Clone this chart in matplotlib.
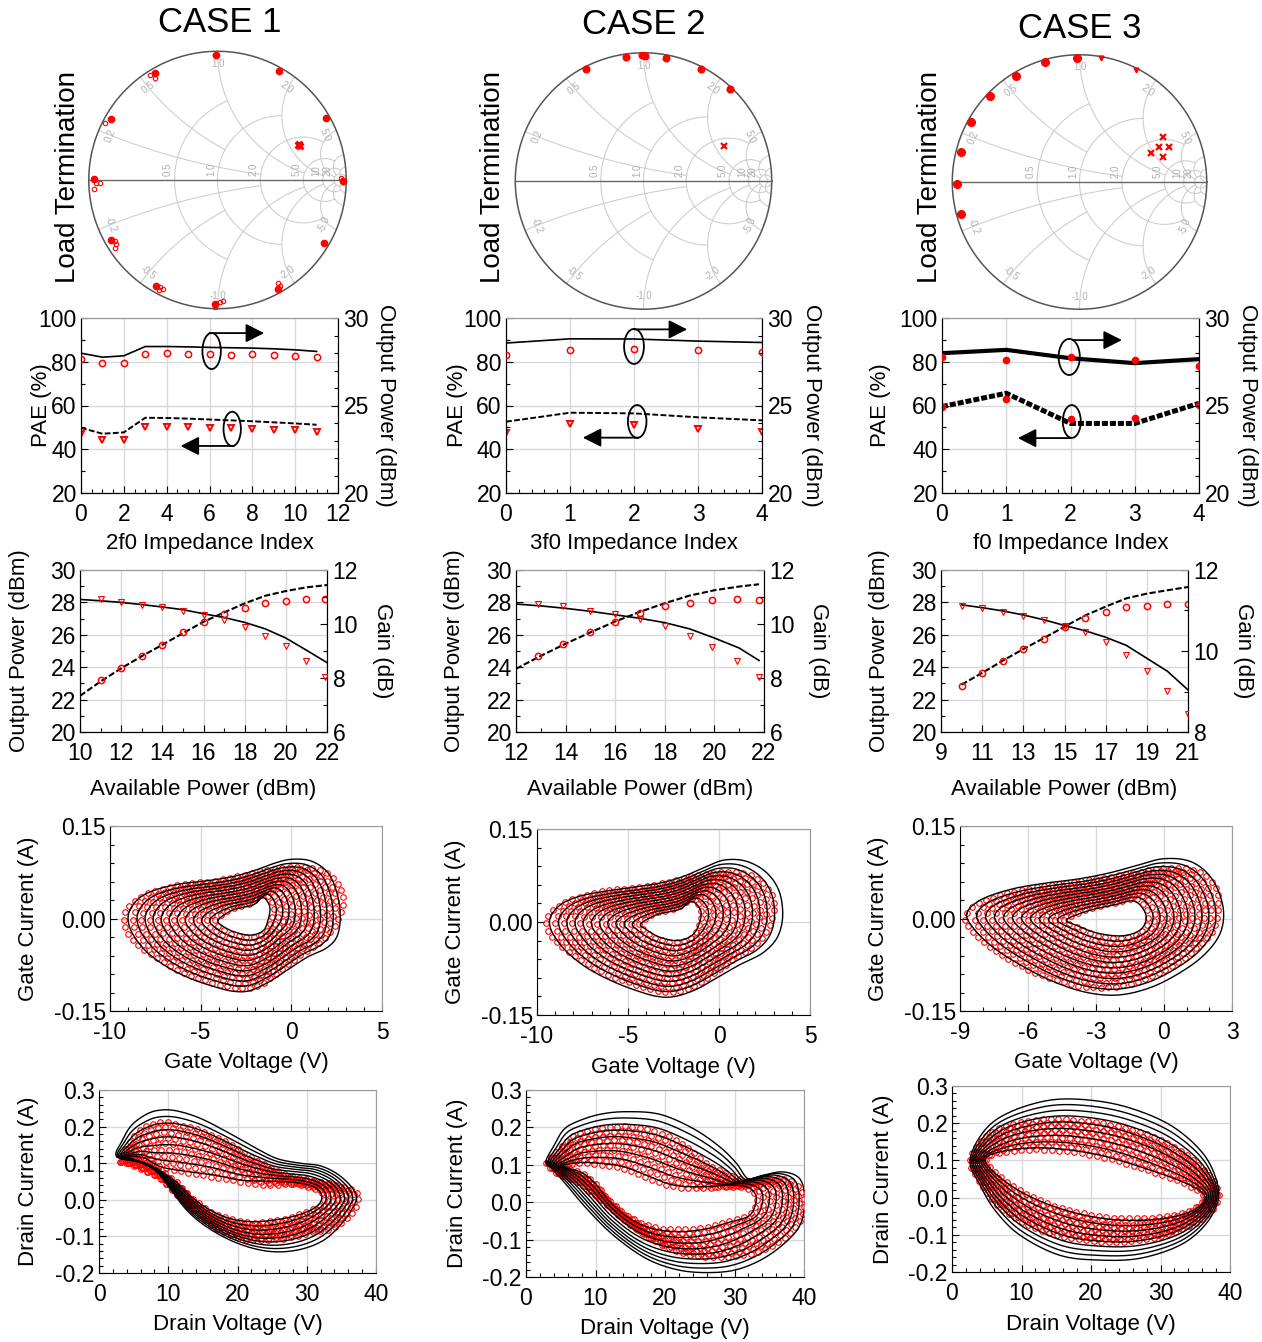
import numpy as np
import matplotlib
matplotlib.use('Agg')
import matplotlib.pyplot as plt
from matplotlib.patches import Ellipse
from matplotlib.ticker import MultipleLocator, FixedLocator, FormatStrFormatter

plt.rcParams['font.family'] = ['Liberation Sans', 'DejaVu Sans']
plt.rcParams['font.size'] = 16
plt.rcParams['axes.unicode_minus'] = False

# ------------------------------------------------------------------ data
case_titles = ['CASE 1', 'CASE 2', 'CASE 3']

# Smith chart points (reflection coefficient re, im)
s1_fill_re = [-0.014, -0.489, -0.831, -0.959, -0.831, -0.481, -0.022, 0.469, 0.829, 0.975, 0.842, 0.481]
s1_fill_im = [0.971, 0.830, 0.473, 0.005, -0.467, -0.822, -0.963, -0.848, -0.490, -0.008, 0.485, 0.848]
s1_open_re = [-0.020, -0.527, -0.489, -0.877, -0.941, -0.959, -0.916, -0.800, -0.792, -0.800, -0.443, -0.423,
              -0.456, 0.017, 0.042, -0.022, 0.469, 0.489, 0.962]
s1_open_im = [0.975, 0.817, 0.792, 0.439, -0.026, -0.072, -0.020, -0.472, -0.498, -0.531, -0.830, -0.843,
              -0.856, -0.945, -0.940, -0.983, -0.800, -0.822, 0.013]
s1_load_re = [0.622, 0.630, 0.638]
s1_load_im = [0.273, 0.280, 0.268]

s2_fill_re = [-0.447, -0.138, -0.014, 0.010, 0.172, 0.450, 0.677]
s2_fill_im = [0.872, 0.968, 0.980, 0.975, 0.963, 0.870, 0.715]
s2_load_re = [0.626]
s2_load_im = [0.271]

s3_fill_re = [-0.016, -0.270, -0.503, -0.702, -0.852, -0.935, -0.964, -0.930]
s3_fill_im = [0.977, 0.940, 0.834, 0.679, 0.470, 0.238, -0.013, -0.251]
s3_small_re = [0.166, 0.446]
s3_small_im = [0.977, 0.878]
s3_load_re = [0.655, 0.627, 0.707, 0.565, 0.653]
s3_load_im = [0.355, 0.275, 0.275, 0.230, 0.200]

# Row 2: PAE / output power vs impedance index
idx1 = [0, 1, 2, 3, 4, 5, 6, 7, 8, 9, 10, 11]
pout_meas1 = [27.67, 27.42, 27.42, 27.95, 27.99, 27.95, 27.95, 27.90, 27.92, 27.88, 27.84, 27.76]
pout_sim1 = [27.99, 27.76, 27.84, 28.37, 28.37, 28.35, 28.32, 28.30, 28.28, 28.24, 28.18, 28.09]
pae_meas1 = [46.8, 44.3, 44.3, 50.1, 50.4, 50.1, 49.8, 49.5, 49.4, 48.6, 48.6, 48.0]
pae_sim1 = [49.8, 47.1, 47.7, 54.4, 54.3, 54.0, 53.6, 53.2, 52.8, 52.3, 51.8, 51.2]

idx2 = [0, 1, 2, 3, 4]
pout_meas2 = [27.86, 28.15, 28.22, 28.15, 28.05]
pout_sim2 = [28.57, 28.81, 28.80, 28.68, 28.60]
pae_meas2 = [47.4, 51.4, 50.9, 49.1, 48.0]
pae_sim2 = [52.6, 56.7, 56.4, 54.6, 53.2]

idx3 = [0, 1, 2, 3, 4]
pout_meas3 = [27.80, 27.60, 27.76, 27.60, 27.27]
pout_sim3 = [27.99, 28.18, 27.70, 27.42, 27.65]
pae_meas3 = [59.5, 63.1, 54.0, 54.4, 60.1]
pae_sim3 = [59.5, 65.6, 51.8, 51.8, 61.0]

# Row 3: output power / gain vs available power
pavs_sim_a = [10, 11, 12, 13, 14, 15, 16, 17, 18, 19, 20, 21, 22]
pout_sim_a = [22.23, 23.12, 23.93, 24.68, 25.38, 26.10, 26.80, 27.38, 27.94, 28.41, 28.70, 28.93, 29.07]
gain_sim_a = [10.91, 10.86, 10.80, 10.72, 10.63, 10.53, 10.38, 10.24, 10.06, 9.82, 9.48, 9.03, 8.57]
pavs_meas_a = [11, 12, 13, 14, 15, 16, 17, 18, 19, 20, 21, 21.9]
pout_meas_a = [23.20, 23.96, 24.68, 25.36, 26.16, 26.80, 27.30, 27.67, 27.94, 28.08, 28.20, 28.20]
gain_meas_a = [10.91, 10.81, 10.71, 10.63, 10.49, 10.35, 10.13, 9.88, 9.57, 9.18, 8.62, 8.04]

pavs_sim_b = [12, 13, 14, 15, 16, 17, 18, 19, 20, 21, 21.8]
pout_sim_b = [23.90, 24.70, 25.45, 26.15, 26.82, 27.42, 27.95, 28.42, 28.75, 28.98, 29.12]
gain_sim_b = [10.74, 10.67, 10.58, 10.47, 10.34, 10.21, 10.05, 9.82, 9.48, 9.11, 8.65]
pavs_meas_b = [12.9, 13.9, 15, 16, 17, 18, 19, 19.9, 20.9, 21.8]
pout_meas_b = [24.70, 25.42, 26.20, 26.82, 27.37, 27.76, 27.99, 28.13, 28.19, 28.13]
gain_meas_b = [10.73, 10.65, 10.50, 10.37, 10.18, 9.91, 9.57, 9.16, 8.63, 8.03]

pavs_sim_c = [10, 11, 12, 13, 14, 15, 16, 17, 18, 19, 20, 21]
pout_sim_c = [22.92, 23.65, 24.40, 25.12, 25.80, 26.50, 27.19, 27.74, 28.25, 28.54, 28.75, 28.95]
gain_sim_c = [11.14, 11.07, 10.99, 10.89, 10.77, 10.63, 10.50, 10.34, 10.14, 9.82, 9.50, 9.04]
pavs_meas_c = [10, 11, 12, 13, 14, 15, 16, 17, 18, 19, 20, 21]
pout_meas_c = [22.81, 23.63, 24.39, 25.11, 25.75, 26.51, 27.06, 27.39, 27.70, 27.80, 27.88, 27.88]
gain_meas_c = [11.12, 11.06, 10.97, 10.87, 10.76, 10.62, 10.46, 10.22, 9.91, 9.50, 9.02, 8.45]

# Row 4: gate loops (outer and inner contours, V and A)
g1_sim_out_v = [-8.90, -8.35, -7.43, -6.14, -4.68, -3.21, -2.11, -1.00, 0.00, 1.11, 2.02, 2.52, 2.70, 2.52, 1.93,
                0.92, -0.09, -1.19, -2.29, -3.21, -4.31, -5.59, -6.88, -7.98, -8.71, -8.99]
g1_sim_out_i = [0.014, 0.034, 0.047, 0.056, 0.061, 0.068, 0.077, 0.089, 0.096, 0.093, 0.074, 0.041, 0.003, -0.029,
                -0.048, -0.062, -0.081, -0.102, -0.117, -0.118, -0.110, -0.097, -0.078, -0.054, -0.027, -0.005]
g1_sim_in_v = [-4.03, -3.21, -2.11, -1.56, -1.19, -1.28, -1.56, -2.29, -3.21, -3.85]
g1_sim_in_i = [-0.002, 0.014, 0.022, 0.034, 0.019, -0.002, -0.020, -0.027, -0.021, -0.011]
g1_meas_out_v = [-9.23, -8.99, -8.25, -7.24, -5.77, -4.31, -2.84, -1.56, -0.27, 1.02, 2.12, 2.76, 2.85, 2.48, 1.75,
                 0.65, -0.45, -1.56, -2.48, -3.57, -4.86, -6.14, -7.43, -8.44, -9.08]
g1_meas_out_i = [-0.002, 0.019, 0.036, 0.047, 0.057, 0.061, 0.069, 0.078, 0.083, 0.083, 0.070, 0.046, 0.025, -0.008,
                 -0.035, -0.056, -0.081, -0.105, -0.113, -0.110, -0.099, -0.086, -0.064, -0.043, -0.021]
g1_meas_in_v = [-4.2, -3.3, -2.2, -1.5, -1.0, -1.1, -1.5, -2.3, -3.3, -4.0]
g1_meas_in_i = [-0.003, 0.016, 0.025, 0.040, 0.022, -0.003, -0.024, -0.031, -0.025, -0.013]

g2_sim_out_v = [-9.2, -8.6, -7.6, -6.2, -4.7, -3.2, -2.0, -0.8, 0.3, 1.5, 2.6, 3.3, 3.5, 3.2, 2.4, 1.2, 0.0, -1.2,
                -2.4, -3.4, -4.6, -5.9, -7.2, -8.3, -9.0, -9.3]
g2_sim_out_i = [0.012, 0.030, 0.042, 0.050, 0.056, 0.063, 0.073, 0.088, 0.100, 0.098, 0.080, 0.050, 0.010, -0.025,
                -0.050, -0.068, -0.088, -0.108, -0.120, -0.120, -0.110, -0.095, -0.075, -0.050, -0.025, -0.005]
g2_sim_in_v = [-4.3, -3.4, -2.2, -1.5, -1.0, -1.1, -1.5, -2.3, -3.3, -4.0]
g2_sim_in_i = [-0.003, 0.012, 0.020, 0.033, 0.018, -0.004, -0.022, -0.030, -0.024, -0.012]
g2_meas_out_v = [-9.5, -9.2, -8.4, -7.4, -5.9, -4.4, -2.9, -1.5, -0.2, 1.1, 2.2, 2.9, 3.0, 2.7, 2.0, 0.9, -0.3,
                 -1.5, -2.5, -3.6, -4.9, -6.2, -7.5, -8.6, -9.3]
g2_meas_out_i = [-0.002, 0.017, 0.033, 0.043, 0.052, 0.056, 0.064, 0.074, 0.080, 0.080, 0.068, 0.044, 0.020, -0.010,
                 -0.037, -0.058, -0.083, -0.105, -0.113, -0.110, -0.098, -0.084, -0.062, -0.041, -0.020]
g2_meas_in_v = [-4.4, -3.5, -2.3, -1.5, -1.0, -1.1, -1.5, -2.4, -3.4, -4.1]
g2_meas_in_i = [-0.003, 0.014, 0.023, 0.037, 0.020, -0.004, -0.025, -0.033, -0.027, -0.013]

g3_sim_out_v = [-8.7, -8.1, -6.8, -5.3, -3.8, -2.4, -1.2, 0.0, 1.2, 2.1, 2.6, 2.5, 1.8, 0.7, -0.6, -2.0, -3.4, -4.9,
                -6.4, -7.6, -8.4]
g3_sim_out_i = [0.008, 0.030, 0.047, 0.057, 0.064, 0.074, 0.086, 0.097, 0.092, 0.065, 0.020, -0.022, -0.058, -0.088,
                -0.112, -0.124, -0.120, -0.102, -0.074, -0.045, -0.016]
g3_sim_in_v = [-4.3, -3.3, -2.2, -1.3, -0.8, -1.0, -1.8, -2.9, -3.8]
g3_sim_in_i = [-0.002, 0.013, 0.022, 0.028, 0.006, -0.017, -0.028, -0.024, -0.012]
g3_meas_out_v = [-8.8, -8.4, -7.2, -5.7, -4.1, -2.6, -1.2, 0.2, 1.4, 2.2, 2.4, 2.1, 1.3, 0.2, -1.1, -2.5, -3.9, -5.4,
                 -6.8, -7.9, -8.6]
g3_meas_out_i = [-0.002, 0.020, 0.038, 0.050, 0.058, 0.066, 0.075, 0.082, 0.078, 0.055, 0.015, -0.022, -0.052, -0.080,
                 -0.102, -0.112, -0.108, -0.092, -0.067, -0.040, -0.015]
g3_meas_in_v = [-4.4, -3.4, -2.2, -1.2, -0.7, -0.9, -1.8, -3.0, -3.9]
g3_meas_in_i = [-0.002, 0.015, 0.025, 0.032, 0.007, -0.019, -0.031, -0.027, -0.013]

# Row 5: drain loops
d1_sim_out_v = [2.55, 3.27, 4.72, 6.88, 8.81, 11.21, 14.58, 18.43, 22.28, 25.65, 29.02, 31.91, 34.31, 36.24, 37.20,
                36.72, 35.27, 32.87, 29.98, 26.61, 23.24, 19.39, 15.54, 12.66, 10.25, 8.33, 5.92]
d1_sim_out_i = [0.118, 0.159, 0.204, 0.234, 0.245, 0.243, 0.223, 0.186, 0.145, 0.113, 0.100, 0.093, 0.072, 0.040,
                0.009, -0.019, -0.060, -0.105, -0.131, -0.142, -0.137, -0.114, -0.074, -0.028, 0.031, 0.077, 0.102]
d1_sim_in_v = [4.0, 6.4, 8.81, 11.69, 16.51, 20.36, 24.21, 28.06, 30.94, 32.15, 31.67, 29.50, 26.13, 22.28, 18.91,
               16.03, 13.62, 11.69, 9.77, 7.36, 4.96]
d1_sim_in_i = [0.118, 0.115, 0.091, 0.080, 0.068, 0.054, 0.051, 0.048, 0.036, 0.013, -0.014, -0.037, -0.053, -0.060,
               -0.051, -0.028, 0.004, 0.040, 0.068, 0.095, 0.111]
d1_meas_out_v = [3.0, 4.3, 5.9, 8.8, 11.7, 14.6, 18.4, 22.3, 26.1, 29.0, 31.9, 35.3, 37.4, 37.4, 36.7, 33.8, 30.9,
                 27.1, 22.8, 20.4, 17.0, 14.6, 11.7, 9.3, 6.9, 4.4]
d1_meas_out_i = [0.103, 0.150, 0.190, 0.213, 0.204, 0.190, 0.159, 0.113, 0.077, 0.059, 0.050, 0.036, 0.018, -0.001,
                 -0.032, -0.078, -0.087, -0.105, -0.110, -0.105, -0.078, -0.042, 0.004, 0.050, 0.077, 0.098]
d1_meas_in_v = [4.5, 6.8, 9.0, 11.8, 16.5, 20.4, 24.2, 28.0, 31.0, 32.5, 32.0, 29.5, 26.0, 22.3, 19.0, 16.0, 13.6,
                11.7, 9.8, 7.4]
d1_meas_in_i = [0.112, 0.108, 0.090, 0.078, 0.062, 0.050, 0.040, 0.042, 0.030, 0.010, -0.015, -0.036, -0.055, -0.062,
                -0.052, -0.030, 0.002, 0.040, 0.068, 0.094]

d2_sim_out_v = [2.87, 3.93, 5.37, 7.28, 10.63, 14.47, 19.26, 24.05, 27.88, 30.28, 31.95, 34.11, 36.98, 39.38, 40.1,
                39.62, 37.94, 34.59, 30.75, 26.92, 22.13, 17.34, 12.55, 8.72, 5.84, 3.93]
d2_sim_out_i = [0.108, 0.148, 0.193, 0.215, 0.235, 0.242, 0.235, 0.197, 0.148, 0.104, 0.063, 0.072, 0.081, 0.063,
                0.010, -0.053, -0.097, -0.146, -0.178, -0.188, -0.182, -0.151, -0.088, -0.017, 0.046, 0.086]
d2_sim_in_v = [5.37, 7.76, 10.63, 13.99, 17.34, 21.17, 25.49, 29.80, 32.19, 33.15, 32.19, 29.32, 25.96, 22.13,
               18.30, 14.95, 12.07, 10.16, 8.24, 6.32]
d2_sim_in_i = [0.099, 0.106, 0.104, 0.095, 0.072, 0.046, 0.041, 0.046, 0.037, 0.010, -0.035, -0.053, -0.071, -0.079,
               -0.071, -0.044, 0.001, 0.046, 0.077, 0.090]
d2_meas_out_v = [2.9, 3.9, 6.3, 8.2, 10.6, 15.4, 20.2, 23.1, 26.0, 29.3, 32.7, 35.5, 38.4, 39.9, 39.9, 38.2, 34.6,
                 30.8, 26.0, 22.1, 18.3, 14.5, 10.6, 7.3, 4.9, 3.2]
d2_meas_out_i = [0.106, 0.126, 0.171, 0.188, 0.197, 0.202, 0.179, 0.148, 0.104, 0.072, 0.054, 0.063, 0.054, 0.019,
                 -0.026, -0.079, -0.124, -0.142, -0.146, -0.133, -0.102, -0.053, 0.010, 0.054, 0.072, 0.095]
d2_meas_in_v = [5.5, 7.9, 10.7, 14.0, 17.3, 21.2, 25.5, 29.8, 32.2, 33.2, 32.2, 29.3, 26.0, 22.1, 18.3, 15.0, 12.1,
                10.2, 8.3, 6.4]
d2_meas_in_i = [0.098, 0.104, 0.100, 0.090, 0.066, 0.042, 0.037, 0.042, 0.034, 0.008, -0.032, -0.050, -0.066, -0.073,
                -0.066, -0.040, 0.002, 0.045, 0.075, 0.088]

d3_sim_out_v = [2.59, 4.75, 8.35, 14.1, 19.86, 25.6, 31.4, 35.7, 37.8, 38.3, 36.4, 32.8, 27.1, 21.3, 15.5, 9.78,
                6.19, 4.03]
d3_sim_out_i = [0.101, 0.182, 0.230, 0.262, 0.262, 0.241, 0.195, 0.128, 0.061, -0.006, -0.074, -0.128, -0.163,
                -0.168, -0.155, -0.101, -0.034, 0.034]
d3_sim_in_v = [4.75, 8.35, 14.1, 21.3, 28.5, 34.2, 36.4, 34.2, 28.5, 21.3, 14.1, 8.35]
d3_sim_in_i = [0.101, 0.128, 0.133, 0.114, 0.074, 0.034, 0.000, -0.039, -0.060, -0.055, -0.020, 0.034]
d3_meas_out_v = [2.6, 4.5, 8.0, 13.0, 18.0, 23.0, 28.0, 32.5, 36.0, 38.0, 38.3, 36.5, 32.5, 27.0, 21.0, 15.0, 10.0,
                 6.5, 4.0]
d3_meas_out_i = [0.100, 0.160, 0.195, 0.210, 0.208, 0.195, 0.170, 0.130, 0.080, 0.035, -0.005, -0.050, -0.090,
                 -0.115, -0.118, -0.100, -0.065, -0.020, 0.040]
d3_meas_in_v = [4.9, 8.5, 14.2, 21.3, 28.4, 34.0, 36.2, 34.0, 28.4, 21.3, 14.2, 8.5]
d3_meas_in_i = [0.100, 0.125, 0.128, 0.110, 0.072, 0.033, 0.000, -0.036, -0.055, -0.050, -0.018, 0.034]

# drive levels (fraction between inner and outer contour) for each loop family
gate_levels = [0.0, 0.09, 0.18, 0.27, 0.36, 0.45, 0.54, 0.63, 0.72, 0.81, 0.90, 1.0]
drain_levels = [0.0, 0.14, 0.28, 0.42, 0.55, 0.67, 0.78, 0.89, 1.0]

# ------------------------------------------------------------------ figure
W, H = 1262, 1342
fig = plt.figure(figsize=(W / 100, H / 100), dpi=100)
TICK_FS = 16.5
LAB_FS = 16


def add_ax(l, t, r, b):
    return fig.add_axes([l / W, 1 - b / H, (r - l) / W, (b - t) / H])


GRAY_SPINE = '#9a9a9a'
GRID = '#d8d8d8'


def tickstyle(ax):
    ax.tick_params(which='both', direction='in', labelsize=TICK_FS, width=0.8)
    ax.tick_params(axis='x', which='both', pad=7.5)
    ax.tick_params(axis='y', which='both', pad=3)
    ax.tick_params(which='major', length=5)
    ax.tick_params(which='minor', length=3)


def style(ax, gray_right=True):
    tickstyle(ax)
    ax.spines['top'].set_color(GRAY_SPINE)
    if gray_right:
        ax.spines['right'].set_color(GRAY_SPINE)
    ax.grid(True, which='major', color=GRID, lw=1.0)
    ax.set_axisbelow(True)


def style_twin(ax2):
    ax2.tick_params(which='both', direction='in', labelsize=TICK_FS, width=0.8, pad=4)
    ax2.tick_params(which='major', length=5)
    ax2.tick_params(which='minor', length=3)
    ax2.spines['top'].set_color(GRAY_SPINE)


# ------------------------------------------------------------ Smith charts
smith_boxes = [(87.5, 50, 347.5, 310), (514, 51.5, 773, 310.5), (951, 53.5, 1208, 310.5)]
title_pos = [(220, 22), (644, 25), (1080, 28)]
lt_x = [68, 493, 930]


def smith_grid(ax):
    gc = '#cfcfcf'
    for r, xmax in [(0.5, 1), (1, 2), (2, 5), (5, 10), (10, 20), (20, 60)]:
        x = np.linspace(-xmax, xmax, 1500)
        g = (r + 1j * x - 1) / (r + 1j * x + 1)
        ax.plot(g.real, g.imag, color=gc, lw=0.8, zorder=1)
    for xv, rmax in [(0.2, 2), (0.5, 1), (1, 5), (2, 10), (5, 20), (10, 20), (20, 60)]:
        rr = np.linspace(0, rmax, 1500)
        for s in (1, -1):
            g = (rr + 1j * s * xv - 1) / (rr + 1j * s * xv + 1)
            ax.plot(g.real, g.imag, color=gc, lw=0.8, zorder=1)
    th = np.linspace(0, 2 * np.pi, 600)
    ax.plot(np.cos(th), np.sin(th), color='#555555', lw=1.1, zorder=2)
    ax.plot([-1, 1], [0, 0], color='#666666', lw=1.0, zorder=2)
    for r, lab in [(0.5, '0.5'), (1, '1.0'), (2, '2.0'), (5, '5.0'), (10, '10'), (20, '20')]:
        g = (r - 1) / (r + 1)
        ax.text(g - 0.012, 0.03, lab, rotation=90, fontsize=7, color='#b0b0b0', ha='right', va='bottom')
    for xv, lab in [(0.2, '0.2'), (0.5, '0.5'), (1, '1.0'), (2, '2.0'), (5, '5.0')]:
        for s in (1, -1):
            g = (1j * s * xv - 1) / (1j * s * xv + 1)
            ang = np.degrees(np.angle(g))
            p = 0.9 * g
            ax.text(p.real, p.imag, lab if s > 0 else '-' + lab, fontsize=7, color='#b0b0b0',
                    rotation=ang - 90 if s > 0 else ang + 90, ha='center', va='center')
    ax.set_xlim(-1.01, 1.01)
    ax.set_ylim(-1.01, 1.01)
    ax.axis('off')


for k in range(3):
    l, t, r, b = smith_boxes[k]
    ax = add_ax(l, t, r, b)
    smith_grid(ax)
    fig.text(title_pos[k][0] / W, 1 - title_pos[k][1] / H, case_titles[k], fontsize=25, ha='center', va='center')
    fig.text(lt_x[k] / W, 1 - 177 / H, 'Load Termination', fontsize=20, rotation=90, ha='center', va='center')
    if k == 0:
        ax.plot(s1_open_re, s1_open_im, 'o', ms=3.2, mfc='none', mec='red', mew=0.8, zorder=5)
        ax.plot(s1_fill_re, s1_fill_im, 'o', ms=4.5, color='red', zorder=6)
        ax.plot(s1_load_re, s1_load_im, 'x', ms=5, color='red', mew=2.0, zorder=6)
    elif k == 1:
        ax.plot(s2_fill_re, s2_fill_im, 'o', ms=4.8, color='red', zorder=6)
        ax.plot(s2_load_re, s2_load_im, 'x', ms=4.5, color='red', mew=1.6, zorder=6)
    else:
        ax.plot(s3_fill_re, s3_fill_im, 'o', ms=5.5, color='red', zorder=6)
        ax.plot(s3_small_re, s3_small_im, 'v', ms=3.5, color='red', zorder=6)
        ax.plot(s3_load_re, s3_load_im, 'x', ms=4.5, color='red', mew=1.6, zorder=6)

# ------------------------------------------------------------ Row 2
row2_boxes = [(81, 318, 338, 493), (506, 318, 762, 493), (942, 318, 1199, 493)]
row2_xlabels = ['2f0 Impedance Index', '3f0 Impedance Index', 'f0 Impedance Index']
row2_data = [(idx1, pout_meas1, pout_sim1, pae_meas1, pae_sim1),
             (idx2, pout_meas2, pout_sim2, pae_meas2, pae_sim2),
             (idx3, pout_meas3, pout_sim3, pae_meas3, pae_sim3)]
row2_ell = [[((6.1, 84.9), 0.86, 16.5), ((7.06, 49.3), 0.81, 15.7)],
            [((2.0, 87.0), 0.31, 16.0), ((2.05, 52.7), 0.29, 15.0)],
            [((1.98, 82.2), 0.33, 16.5), ((2.02, 52.7), 0.28, 15.0)]]
row2_arrows = [[((6.0, 93.1), (8.55, 93.1)), ((7.14, 41.5), (4.65, 41.5))],
               [((2.0, 94.8), (2.83, 94.8)), ((2.07, 45.3), (1.2, 45.3))],
               [((2.04, 89.9), (2.8, 89.9)), ((2.0, 45.1), (1.18, 45.1))]]
row2_lab = [(-0.152, 1.183), (-0.19, 1.195), (-0.24, 1.187)]

for k in range(3):
    l, t, r, b = row2_boxes[k]
    ax = add_ax(l, t, r, b)
    idx, pm, ps, em, es = row2_data[k]
    ax2 = ax.twinx()
    style(ax, gray_right=False)
    style_twin(ax2)
    if k == 2:
        ax.plot(idx, es, color='black', lw=3.6, ls=(0, (1.2, 0.4)), zorder=3)
        ax2.plot(idx, ps, color='black', lw=3.0, zorder=3)
        ax.plot(idx, em, 'o', ms=4.5, color='red', zorder=4)
        ax2.plot(idx, pm, 'o', ms=4.5, color='red', zorder=4)
    else:
        ax.plot(idx, es, color='black', lw=1.4, ls=(0, (3, 1.2)), zorder=3)
        ax2.plot(idx, ps, color='black', lw=1.2, zorder=3)
        ax.plot(idx, em, 'v', ms=4.5, mfc='none', mec='red', mew=1.4, zorder=4)
        ax2.plot(idx, pm, 'o', ms=4.5, mfc='none', mec='red', mew=1.1, zorder=4)
    ax.set_ylim(20, 100)
    ax2.set_ylim(20, 30)
    ax.yaxis.set_major_locator(MultipleLocator(20))
    ax.yaxis.set_minor_locator(MultipleLocator(10))
    ax2.yaxis.set_major_locator(MultipleLocator(5))
    ax2.yaxis.set_minor_locator(MultipleLocator(1))
    if k == 0:
        ax.set_xlim(0, 12)
        ax.xaxis.set_major_locator(MultipleLocator(2))
        ax.xaxis.set_minor_locator(MultipleLocator(0.5))
    else:
        ax.set_xlim(0, 4)
        ax.xaxis.set_major_locator(MultipleLocator(1))
        ax.xaxis.set_minor_locator(MultipleLocator(0.2))
    for (c, w, h) in row2_ell[k]:
        ax.add_patch(Ellipse(c, w, h, fill=False, ec='black', lw=1.3, zorder=5))
    for (s, e) in row2_arrows[k]:
        ax.annotate('', xy=e, xytext=s,
                    arrowprops=dict(arrowstyle='-|>,head_length=0.75,head_width=0.38', color='black', lw=1.3,
                                    mutation_scale=15, shrinkA=0, shrinkB=0), zorder=6)
    ax.set_ylabel('PAE (%)', fontsize=LAB_FS, va='center')
    ax.yaxis.set_label_coords(row2_lab[k][0], 0.5)
    ax2.set_ylabel('Output Power (dBm)', fontsize=LAB_FS, rotation=-90, va='center')
    ax2.yaxis.set_label_coords(row2_lab[k][1], 0.5)
    ax.set_xlabel(row2_xlabels[k], fontsize=LAB_FS, va='center')
    ax.xaxis.set_label_coords(0.5, -0.291)

# ------------------------------------------------------------ Row 3
row3_boxes = [(80, 570, 327, 732), (516, 570, 764, 732), (941, 570, 1188, 732)]
row3_data = [(pavs_sim_a, pout_sim_a, gain_sim_a, pavs_meas_a, pout_meas_a, gain_meas_a),
             (pavs_sim_b, pout_sim_b, gain_sim_b, pavs_meas_b, pout_meas_b, gain_meas_b),
             (pavs_sim_c, pout_sim_c, gain_sim_c, pavs_meas_c, pout_meas_c, gain_meas_c)]
row3_xlim = [(10, 22), (12, 22), (9, 21)]
row3_xticks = [[10, 12, 14, 16, 18, 20, 22], [12, 14, 16, 18, 20, 22], [9, 11, 13, 15, 17, 19, 21]]
row3_glim = [(6, 12), (6, 12), (8, 12)]
row3_lab = [(-0.243, 1.223), (-0.246, 1.218), (-0.247, 1.223)]

for k in range(3):
    l, t, r, b = row3_boxes[k]
    ax = add_ax(l, t, r, b)
    ps_x, ps_y, gs_y, pm_x, pm_y, gm_y = row3_data[k]
    ax2 = ax.twinx()
    style(ax, gray_right=False)
    style_twin(ax2)
    ax.plot(ps_x, ps_y, color='black', lw=1.5, ls=(0, (3, 1.2)), zorder=3)
    ax.plot(pm_x, pm_y, 'o', ms=4.5, mfc='none', mec='red', mew=1.1, zorder=4)
    ax2.plot(ps_x, gs_y, color='black', lw=1.2, zorder=3)
    ax2.plot(pm_x, gm_y, 'v', ms=4, mfc='none', mec='red', mew=0.8, zorder=4)
    ax.set_xlim(*row3_xlim[k])
    ax.set_ylim(20, 30)
    ax2.set_ylim(*row3_glim[k])
    ax.xaxis.set_major_locator(FixedLocator(row3_xticks[k]))
    ax.xaxis.set_minor_locator(MultipleLocator(1))
    ax.yaxis.set_major_locator(MultipleLocator(2))
    ax.yaxis.set_minor_locator(MultipleLocator(1))
    ax2.yaxis.set_major_locator(MultipleLocator(2))
    ax2.yaxis.set_minor_locator(MultipleLocator(1))
    ax.set_ylabel('Output Power (dBm)', fontsize=LAB_FS, va='center')
    ax.yaxis.set_label_coords(row3_lab[k][0], 0.5)
    ax2.set_ylabel('Gain (dB)', fontsize=LAB_FS, rotation=-90, va='center')
    ax2.yaxis.set_label_coords(row3_lab[k][1], 0.5)
    ax.set_xlabel('Available Power (dBm)', fontsize=LAB_FS, va='center')
    ax.xaxis.set_label_coords(0.5, -0.358)


# ------------------------------------------------------------ loops
def closed_curve(xs, ys, sx, sy, n=500):
    P = np.column_stack([np.asarray(xs, float) / sx, np.asarray(ys, float) / sy])
    N = len(P)
    t = np.linspace(0, 1, 16, endpoint=False)[:, None]
    segs = []
    for k in range(N):
        p0, p1, p2, p3 = P[k - 1], P[k], P[(k + 1) % N], P[(k + 2) % N]
        segs.append(0.5 * (2 * p1 + (p2 - p0) * t + (2 * p0 - 5 * p1 + 4 * p2 - p3) * t ** 2
                           + (3 * p1 - p0 - 3 * p2 + p3) * t ** 3))
    C = np.vstack(segs + [P[:1]])
    d = np.r_[0, np.cumsum(np.hypot(*np.diff(C, axis=0).T))]
    s = np.linspace(0, d[-1], n)
    return np.column_stack([np.interp(s, d, C[:, 0]), np.interp(s, d, C[:, 1])])


def draw_loops(ax, box, xlim, ylim, sim_out, sim_in, meas_out, meas_in, levels):
    l, t, r, b = box
    sx = (xlim[1] - xlim[0]) / (r - l)
    sy = (ylim[1] - ylim[0]) / (b - t)
    so = closed_curve(*sim_out, sx, sy)
    si = closed_curve(*sim_in, sx, sy)
    mo = closed_curve(*meas_out, sx, sy)
    mi = closed_curve(*meas_in, sx, sy)
    for f in levels:
        C = mi + f * (mo - mi)
        C = np.vstack([C, C[:1]])
        d = np.r_[0, np.cumsum(np.hypot(*np.diff(C, axis=0).T))]
        nm = max(int(d[-1] / 7.5), 12)
        s = np.linspace(0, d[-1], nm, endpoint=False)
        x = np.interp(s, d, C[:, 0]) * sx
        y = np.interp(s, d, C[:, 1]) * sy
        ax.plot(x, y, 'o', ms=4.0, mfc='none', mec='red', mew=0.8, zorder=3)
    for f in levels:
        C = si + f * (so - si)
        C = np.vstack([C, C[:1]])
        ax.plot(C[:, 0] * sx, C[:, 1] * sy, color='black', lw=1.0, zorder=4)


row4_boxes = [(110, 826, 382, 1011), (537, 829, 810, 1015), (960, 826, 1232, 1011)]
row4_xlim = [(-10, 5), (-10, 5), (-9, 3)]
row4_xticks = [[-10, -5, 0, 5], [-10, -5, 0, 5], [-9, -6, -3, 0, 3]]
row4_sets = [((g1_sim_out_v, g1_sim_out_i), (g1_sim_in_v, g1_sim_in_i), (g1_meas_out_v, g1_meas_out_i),
              (g1_meas_in_v, g1_meas_in_i)),
             ((g2_sim_out_v, g2_sim_out_i), (g2_sim_in_v, g2_sim_in_i), (g2_meas_out_v, g2_meas_out_i),
              (g2_meas_in_v, g2_meas_in_i)),
             ((g3_sim_out_v, g3_sim_out_i), (g3_sim_in_v, g3_sim_in_i), (g3_meas_out_v, g3_meas_out_i),
              (g3_meas_in_v, g3_meas_in_i))]
row4_lab = [(-0.30, -0.281), (-0.297, -0.28), (-0.298, -0.281)]

for k in range(3):
    box = row4_boxes[k]
    ax = add_ax(*box)
    style(ax)
    ylim = (-0.15, 0.15)
    draw_loops(ax, box, row4_xlim[k], ylim, *row4_sets[k], gate_levels)
    ax.set_xlim(*row4_xlim[k])
    ax.set_ylim(*ylim)
    ax.xaxis.set_major_locator(FixedLocator(row4_xticks[k]))
    ax.xaxis.set_minor_locator(MultipleLocator(1))
    ax.yaxis.set_major_locator(FixedLocator([-0.15, 0.0, 0.15]))
    ax.yaxis.set_minor_locator(MultipleLocator(0.03))
    ax.yaxis.set_major_formatter(FormatStrFormatter('%.2f'))
    ax.set_ylabel('Gate Current (A)', fontsize=LAB_FS, va='center')
    ax.yaxis.set_label_coords(row4_lab[k][0], 0.5)
    ax.set_xlabel('Gate Voltage (V)', fontsize=LAB_FS, va='center')
    ax.xaxis.set_label_coords(0.5, row4_lab[k][1])

row5_boxes = [(99, 1090, 376, 1273), (526, 1090, 804, 1277), (952, 1086, 1230, 1272)]
row5_sets = [((d1_sim_out_v, d1_sim_out_i), (d1_sim_in_v, d1_sim_in_i), (d1_meas_out_v, d1_meas_out_i),
              (d1_meas_in_v, d1_meas_in_i)),
             ((d2_sim_out_v, d2_sim_out_i), (d2_sim_in_v, d2_sim_in_i), (d2_meas_out_v, d2_meas_out_i),
              (d2_meas_in_v, d2_meas_in_i)),
             ((d3_sim_out_v, d3_sim_out_i), (d3_sim_in_v, d3_sim_in_i), (d3_meas_out_v, d3_meas_out_i),
              (d3_meas_in_v, d3_meas_in_i))]
row5_lab = [(-0.256, -0.279), (-0.248, -0.273), (-0.248, -0.28)]

for k in range(3):
    box = row5_boxes[k]
    ax = add_ax(*box)
    style(ax)
    xlim = (0, 40)
    ylim = (-0.2, 0.3)
    draw_loops(ax, box, xlim, ylim, *row5_sets[k], drain_levels)
    ax.set_xlim(*xlim)
    ax.set_ylim(*ylim)
    ax.xaxis.set_major_locator(MultipleLocator(10))
    ax.xaxis.set_minor_locator(MultipleLocator(2))
    ax.yaxis.set_major_locator(MultipleLocator(0.1))
    ax.yaxis.set_minor_locator(MultipleLocator(0.02))
    ax.yaxis.set_major_formatter(FormatStrFormatter('%.1f'))
    ax.set_ylabel('Drain Current (A)', fontsize=LAB_FS, va='center')
    ax.yaxis.set_label_coords(row5_lab[k][0], 0.5)
    ax.set_xlabel('Drain Voltage (V)', fontsize=LAB_FS, va='center')
    ax.xaxis.set_label_coords(0.5, row5_lab[k][1])

fig.savefig('out.png', dpi=100)
